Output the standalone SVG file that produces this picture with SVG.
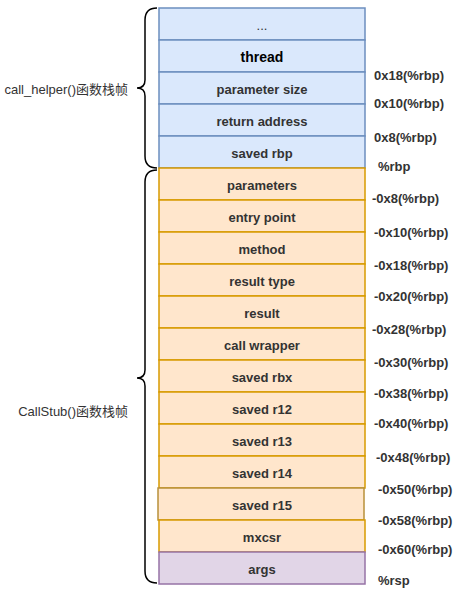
<svg xmlns="http://www.w3.org/2000/svg" width="464" height="597" viewBox="0 0 464 597">
<style>
.b rect{fill:#dae8fc;stroke:#6c8ebf;stroke-width:1.5}
.o rect{fill:#ffe6cc;stroke:#d79b00;stroke-width:1.5}
.p rect{fill:#e1d5e7;stroke:#9673a6;stroke-width:1.5}
.c{font-family:"Liberation Sans",Arial,sans-serif;font-size:13px;font-weight:bold;fill:#333333;text-anchor:middle}
.t{fill:#000000;font-size:14px}
.r{font-family:"Liberation Sans",Arial,sans-serif;font-size:13px;font-weight:bold;fill:#333333}
.l{font-family:"Liberation Sans",Arial,"Noto Sans CJK SC",sans-serif;font-size:13px;fill:#333333;text-anchor:end}
.br{fill:none;stroke:#000000;stroke-width:1.5}
</style>
<rect width="464" height="597" fill="#ffffff"/>
<g id="n-dots" class="b"><rect x="159" y="8" width="206" height="32"/><text class="c" x="262" y="29.5" style="font-weight:normal">...</text></g>
<g id="n-thread" class="b"><rect x="159" y="40" width="206" height="32"/><text class="c t" x="262" y="62">thread</text></g>
<g id="n-psize" class="b"><rect x="159" y="72" width="206" height="32"/><text class="c" x="262" y="93.5">parameter size</text></g>
<g id="n-ret" class="b"><rect x="159" y="104" width="206" height="32"/><text class="c" x="262" y="125.5">return address</text></g>
<g id="n-rbp" class="b"><rect x="159" y="136" width="206" height="32"/><text class="c" x="262" y="157.5">saved rbp</text></g>
<g id="n-params" class="o"><rect x="159" y="168" width="206" height="32"/><text class="c" x="262" y="189.5">parameters</text></g>
<g id="n-entry" class="o"><rect x="159" y="200" width="206" height="32"/><text class="c" x="262" y="221.5">entry point</text></g>
<g id="n-method" class="o"><rect x="159" y="232" width="206" height="32"/><text class="c" x="262" y="253.5">method</text></g>
<g id="n-rtype" class="o"><rect x="159" y="264" width="206" height="32"/><text class="c" x="262" y="285.5">result type</text></g>
<g id="n-result" class="o"><rect x="159" y="296" width="206" height="32"/><text class="c" x="262" y="317.5">result</text></g>
<g id="n-cw" class="o"><rect x="159" y="328" width="206" height="32"/><text class="c" x="262" y="349.5">call wrapper</text></g>
<g id="n-rbx" class="o"><rect x="159" y="360" width="206" height="32"/><text class="c" x="262" y="381.5">saved rbx</text></g>
<g id="n-r12" class="o"><rect x="159" y="392" width="206" height="32"/><text class="c" x="262" y="413.5">saved r12</text></g>
<g id="n-r13" class="o"><rect x="159" y="424" width="206" height="32"/><text class="c" x="262" y="445.5">saved r13</text></g>
<g id="n-r14" class="o"><rect x="159" y="456" width="206" height="32"/><text class="c" x="262" y="477.5">saved r14</text></g>
<g id="n-r15" class="o"><rect x="158" y="488" width="206" height="32" style="stroke:#b8903a"/><text class="c" x="262" y="509.5">saved r15</text></g>
<g id="n-mxcsr" class="o"><rect x="159" y="520" width="206" height="32"/><text class="c" x="262" y="541.5">mxcsr</text></g>
<g id="n-args" class="p"><rect x="159" y="552" width="206" height="32"/><text class="c" x="262" y="573.5">args</text></g>
<g id="offsets">
<text class="r" x="374" y="79.5">0x18(%rbp)</text>
<text class="r" x="374" y="107.5">0x10(%rbp)</text>
<text class="r" x="374" y="141.5">0x8(%rbp)</text>
<text class="r" x="378" y="170.5">%rbp</text>
<text class="r" x="372" y="202.5">-0x8(%rbp)</text>
<text class="r" x="374" y="236.5">-0x10(%rbp)</text>
<text class="r" x="374" y="269.5">-0x18(%rbp)</text>
<text class="r" x="374" y="300.5">-0x20(%rbp)</text>
<text class="r" x="372" y="333.5">-0x28(%rbp)</text>
<text class="r" x="374" y="366.5">-0x30(%rbp)</text>
<text class="r" x="374" y="397.5">-0x38(%rbp)</text>
<text class="r" x="374" y="427.5">-0x40(%rbp)</text>
<text class="r" x="376" y="461.5">-0x48(%rbp)</text>
<text class="r" x="378" y="493.5">-0x50(%rbp)</text>
<text class="r" x="378" y="524.5">-0x58(%rbp)</text>
<text class="r" x="378" y="553.5">-0x60(%rbp)</text>
<text class="r" x="378" y="584.5">%rsp</text>
</g>
<g id="frames">
<path class="br" d="M157,8 Q145,8 145,20 L145,80 Q145,88 137,88 Q145,88 145,96 L145,156 Q145,168 157,168"/>
<text class="l" x="128" y="93.5">call_helper()函数栈帧</text>
<path class="br" d="M157,170 Q145,170 145,182 L145,370 Q145,378 137,378 Q145,378 145,386 L145,571 Q145,583 157,583"/>
<text class="l" x="128" y="415.5">CallStub()函数栈帧</text>
</g>
</svg>
